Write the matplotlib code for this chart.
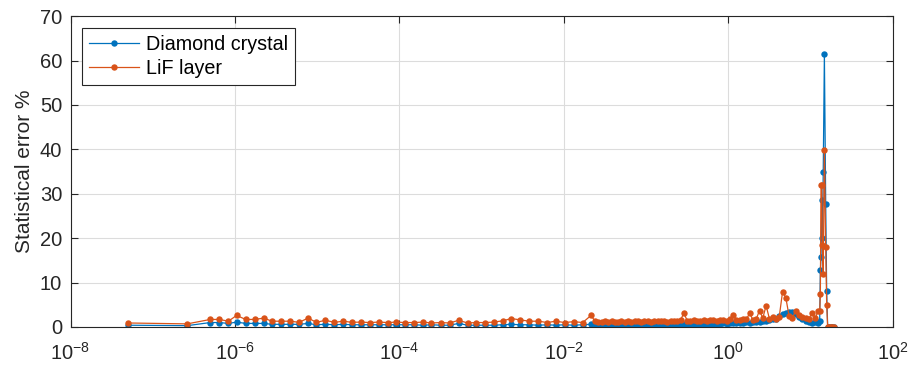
import numpy as np
import matplotlib
matplotlib.use("Agg")
import matplotlib.pyplot as plt
from matplotlib.ticker import NullLocator, MultipleLocator

plt.rcParams["font.family"] = ["Liberation Sans", "DejaVu Sans"]
plt.rcParams["mathtext.fontset"] = "custom"
plt.rcParams["mathtext.rm"] = "Liberation Sans"
plt.rcParams["mathtext.default"] = "regular"
plt.rcParams["axes.unicode_minus"] = False

#%% data (log10 of energy, MeV) and statistical error in %

log_sparse = [-7.30, -6.58,
              -6.30, -6.19, -6.08, -5.98, -5.87, -5.76, -5.65, -5.55, -5.44, -5.33,
              -5.22, -5.11, -5.01, -4.90, -4.79, -4.68, -4.58, -4.47, -4.36, -4.25,
              -4.14, -4.04, -3.93, -3.82, -3.71, -3.61, -3.50, -3.39, -3.28, -3.17,
              -3.07, -2.96, -2.85, -2.74, -2.64, -2.53, -2.42, -2.31, -2.20, -2.10,
              -1.99, -1.88, -1.77, -1.67]

diamond_sparse = [0.4, 0.3,
                  1.0, 1.0, 0.8, 1.1, 0.8, 0.8, 0.8, 0.6, 0.6, 0.6,
                  0.6, 0.8, 0.5, 0.6, 0.5, 0.6, 0.5, 0.5, 0.5, 0.5,
                  0.5, 0.5, 0.5, 0.5, 0.4, 0.5, 0.4, 0.4, 0.8, 0.4,
                  0.4, 0.4, 0.4, 0.5, 0.6, 0.5, 0.5, 0.4, 0.5, 0.4,
                  0.5, 0.4, 0.5, 0.6]

lif_sparse = [0.9, 0.7,
              1.7, 1.7, 1.3, 2.6, 1.7, 1.7, 2.0, 1.3, 1.3, 1.3,
              1.05, 2.0, 1.05, 1.5, 1.05, 1.3, 1.05, 1.1, 1.0, 1.1,
              1.0, 1.1, 1.0, 1.0, 1.1, 0.9, 1.0, 0.9, 1.5, 0.9,
              1.0, 1.0, 1.1, 1.4, 1.9, 1.6, 1.3, 1.3, 1.0, 1.3,
              1.0, 1.2, 1.0, 2.6]

log_dense = [-1.62, -1.58, -1.54, -1.50, -1.46, -1.42, -1.38, -1.34, -1.30, -1.26,
             -1.22, -1.18, -1.14, -1.10, -1.06, -1.02, -0.98, -0.94, -0.90, -0.86,
             -0.82, -0.78, -0.74, -0.70, -0.66, -0.62, -0.58, -0.54, -0.50, -0.46,
             -0.42, -0.38, -0.34, -0.30, -0.26, -0.22, -0.18, -0.14, -0.10, -0.06,
             -0.02, 0.02, 0.06, 0.10, 0.14, 0.18, 0.22, 0.26, 0.30, 0.34,
             0.38, 0.42, 0.46, 0.50, 0.54, 0.58, 0.62, 0.66, 0.70, 0.74,
             0.78, 0.82, 0.86, 0.90, 0.94, 0.98, 1.02, 1.06]

diamond_dense = [0.6, 0.5, 0.5, 0.4, 0.5, 0.5, 0.4, 0.5, 0.5, 0.4,
                 0.5, 0.5, 0.5, 0.4, 0.5, 0.5, 0.5, 0.6, 0.5, 0.5,
                 0.5, 0.6, 0.5, 0.5, 0.6, 0.5, 0.6, 0.7, 0.5, 0.6,
                 0.6, 0.5, 0.6, 0.6, 0.7, 0.6, 0.7, 0.6, 0.7, 0.8,
                 0.7, 0.8, 0.9, 0.8, 1.0, 0.9, 1.1, 1.0, 1.2, 1.1,
                 1.2, 1.4, 1.3, 1.6, 1.9, 1.7, 2.4, 2.9, 3.1, 3.3,
                 3.4, 3.0, 2.2, 1.8, 1.4, 1.2, 1.0, 1.2]

lif_dense = [1.3, 1.2, 1.1, 1.3, 1.2, 1.3, 1.2, 1.1, 1.3, 1.2,
             1.4, 1.2, 1.3, 1.3, 1.2, 1.4, 1.3, 1.2, 1.4, 1.3,
             1.3, 1.4, 1.2, 1.3, 1.4, 1.3, 1.5, 3.2, 1.4, 1.3,
             1.5, 1.4, 1.3, 1.5, 1.4, 1.6, 1.5, 1.4, 1.6, 1.5,
             1.4, 1.7, 2.7, 1.6, 1.5, 1.8, 1.7, 3.1, 1.6, 1.8,
             3.7, 2.0, 4.8, 1.9, 2.2, 1.8, 2.3, 7.9, 6.6, 2.4,
             2.1, 3.6, 2.6, 2.3, 2.0, 1.9, 3.1, 2.0]

log_peak = [1.094, 1.112, 1.120, 1.128, 1.136, 1.145, 1.155, 1.169, 1.185, 1.197,
            1.209, 1.228, 1.246, 1.264, 1.282]
diamond_peak = [1.0, 1.3, 12.8, 15.7, 28.6, 20.0, 35.0, 61.4, 27.6, 8.0,
                0.0, 0.0, 0.0, 0.0, 0.0]
lif_peak = [3.7, 3.6, 7.4, 32.0, 32.0, 18.5, 12.0, 39.8, 18.0, 5.0,
            0.0, 0.0, 0.0, 0.0, 0.0]

energy = 10.0 ** np.array(log_sparse + log_dense + log_peak)
err_diamond = np.array(diamond_sparse + diamond_dense + diamond_peak)
err_lif = np.array(lif_sparse + lif_dense + lif_peak)

#%% plot

fig = plt.figure(figsize=(9.1, 3.66), dpi=100)
ax = fig.add_axes([0.0775, 0.1066, 0.9035, 0.8494])

ax.plot(energy, err_diamond, "-o", color="#0072BD", lw=0.9, ms=4.6,
        mec="none", label="Diamond crystal")
ax.plot(energy, err_lif, "-o", color="#D95319", lw=0.9, ms=4.6,
        mec="none", label="LiF layer")

ax.set_xscale("log")
ax.set_xlim(1e-8, 1e2)
ax.set_ylim(0, 70)
ax.set_xticks([1e-8, 1e-6, 1e-4, 1e-2, 1e0, 1e2])
ax.xaxis.set_minor_locator(NullLocator())
ax.yaxis.set_major_locator(MultipleLocator(10))

ax.set_ylabel("Statistical error %", fontsize=15, color="#262626", labelpad=4)
ax.tick_params(direction="in", length=5, width=0.8, top=True, right=True,
               labelsize=14.5, labelcolor="#262626", color="#262626")
ax.tick_params(axis="x", pad=11)
ax.tick_params(axis="y", pad=6)
ax.grid(True, color="#dcdcdc", lw=0.8)
ax.set_axisbelow(True)
for s in ax.spines.values():
    s.set_color("#262626")
    s.set_linewidth(0.8)

leg = ax.legend(loc="upper left", fontsize=14.2, fancybox=False, framealpha=1,
                edgecolor="#262626", borderaxespad=0.6, handlelength=2.5,
                borderpad=0.35, labelspacing=0.25, handletextpad=0.4)
leg.get_frame().set_linewidth(0.8)

fig.savefig("out.png", dpi=100)
